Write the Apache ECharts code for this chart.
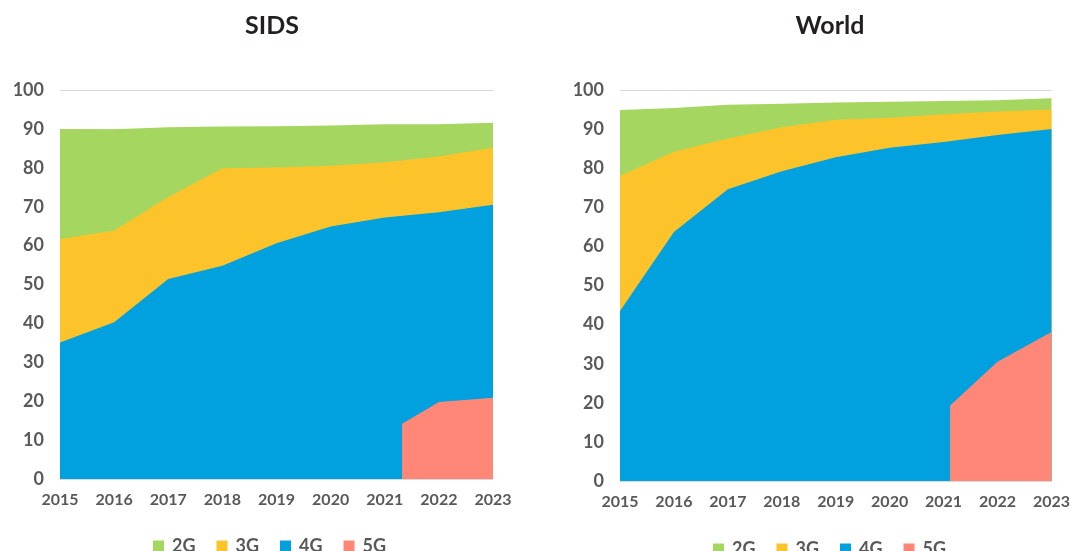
<!DOCTYPE html>
<html>
<head>
<meta charset="utf-8">
<script src="https://cdn.jsdelivr.net/npm/echarts@6/dist/echarts.min.js"></script>
<style>
html,body{margin:0;padding:0;background:#fff;}
#c{width:1073px;height:551px;}
</style>
</head>
<body>
<div id="c"></div>
<script>
// ---- data ----
const years = [2015, 2016, 2017, 2018, 2019, 2020, 2021, 2022, 2023];
const seriesNames = ['2G', '3G', '4G', '5G'];
const panelTitles = ['SIDS', 'World'];

const sids2G = [90.0, 89.9, 90.4, 90.6, 90.7, 90.9, 91.2, 91.2, 91.6];
const sids3G = [61.7, 63.9, 72.5, 79.9, 80.1, 80.5, 81.4, 82.9, 85.2];
const sids4G = [35.1, 40.3, 51.4, 54.8, 60.6, 64.9, 67.2, 68.6, 70.5];
const sids5GYears = [2020, 2021.32, 2021.32, 2022, 2023];
const sids5G = [0, 0, 14.2, 19.8, 20.9];

const world2G = [94.9, 95.4, 96.2, 96.5, 96.8, 97.0, 97.2, 97.4, 97.9];
const world3G = [78.0, 84.2, 87.6, 90.5, 92.4, 92.9, 93.8, 94.5, 95.0];
const world4G = [43.5, 63.7, 74.6, 79.2, 82.8, 85.2, 86.7, 88.5, 90.0];
const world5GYears = [2020, 2021.12, 2021.12, 2022, 2023];
const world5G = [0, 0, 19.3, 30.5, 38.1];

const yTicks = [0, 10, 20, 30, 40, 50, 60, 70, 80, 90, 100];

// ---- styling ----
const colors = {'2G': '#a5d65f', '3G': '#fcc42a', '4G': '#00a1de', '5G': '#ff8778'};
const FONT = 'Lato';
const labelColor = '#595959';

function pairs(xs, ys) { return xs.map((x, i) => [x, ys[i]]); }

const panels = [
  {data: [pairs(years, sids2G), pairs(years, sids3G), pairs(years, sids4G), pairs(sids5GYears, sids5G)]},
  {data: [pairs(years, world2G), pairs(years, world3G), pairs(years, world4G), pairs(world5GYears, world5G)]}
];

const grids = [
  {left: 60, right: 580, top: 90, bottom: 72},
  {left: 620, right: 18, top: 90, bottom: 70}
];

const legendText = {fontFamily: FONT, fontWeight: 'bold', fontSize: 18, color: labelColor, padding: [0, 0, 0, 3]};

const option = {
  animation: false,
  backgroundColor: '#fff',
  title: [
    {text: panelTitles[0], left: 267, top: 8, textAlign: 'center',
     textStyle: {fontFamily: FONT, fontWeight: 'bold', fontSize: 25, color: '#231f20'}},
    {text: panelTitles[1], left: 825, top: 8, textAlign: 'center',
     textStyle: {fontFamily: FONT, fontWeight: 'bold', fontSize: 25, color: '#231f20'}}
  ],
  legend: [
    {data: seriesNames, left: 148, top: 532, itemWidth: 11, itemHeight: 11, itemGap: 21,
     icon: 'rect', textStyle: legendText},
    {data: seriesNames, left: 708, top: 535, itemWidth: 11, itemHeight: 11, itemGap: 21,
     icon: 'rect', textStyle: legendText}
  ],
  grid: grids,
  xAxis: grids.map((g, i) => ({
    type: 'value', gridIndex: i, min: years[0], max: years[years.length - 1], interval: 1,
    axisLine: {show: true, lineStyle: {color: '#d9d9d9', width: 1}},
    axisTick: {show: false},
    splitLine: {show: false},
    axisLabel: {fontFamily: FONT, fontWeight: 'bold', fontSize: 16, color: labelColor, margin: 13,
                formatter: v => String(v)}
  })),
  yAxis: grids.map((g, i) => ({
    type: 'value', gridIndex: i, min: yTicks[0], max: yTicks[yTicks.length - 1], interval: 10,
    axisLine: {show: false},
    axisTick: {show: false},
    splitLine: {show: true, lineStyle: {color: '#d9d9d9', width: 1}},
    axisLabel: {fontFamily: FONT, fontWeight: 'bold', fontSize: 18, color: labelColor, margin: 16}
  })),
  series: []
};

panels.forEach((p, gi) => {
  seriesNames.forEach((name, si) => {
    option.series.push({
      name: name, type: 'line', xAxisIndex: gi, yAxisIndex: gi,
      data: p.data[si], symbol: 'none', smooth: false,
      lineStyle: {width: 0},
      itemStyle: {color: colors[name]},
      areaStyle: {color: colors[name], opacity: 1, origin: 'start'},
      z: 2 + si
    });
  });
});

const chart = echarts.init(document.getElementById('c'), null, {renderer: 'canvas'});
chart.setOption(option);
</script>
</body>
</html>
